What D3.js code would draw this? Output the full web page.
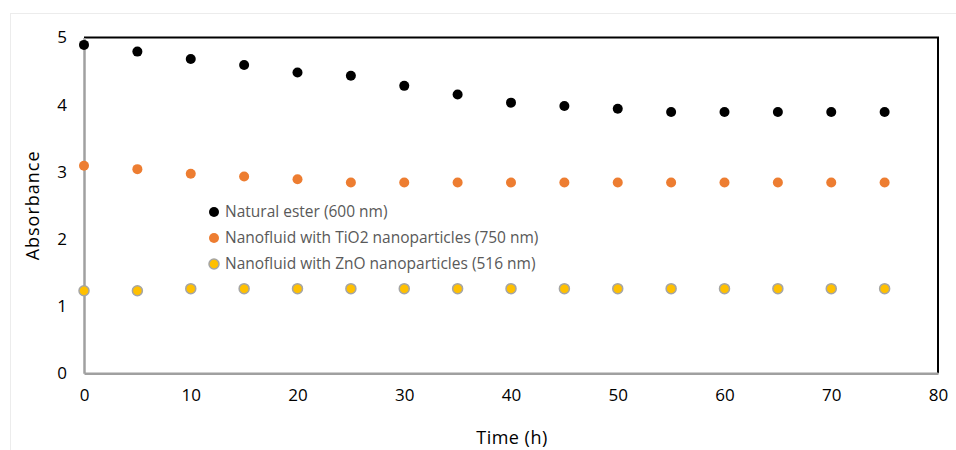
<!DOCTYPE html>
<html><head><meta charset="utf-8">
<script src="https://cdn.jsdelivr.net/npm/d3@7"></script>
<style>body{margin:0;background:#fff}svg{display:block}text{font-family:"Open Sans","Liberation Sans",sans-serif}</style>
</head><body><svg id="c" width="956" height="450"></svg>
<script>
const times = [0,5,10,15,20,25,30,35,40,45,50,55,60,65,70,75];
const naturalEster = [4.89,4.79,4.68,4.59,4.48,4.43,4.28,4.15,4.03,3.98,3.94,3.89,3.89,3.89,3.89,3.89];
const tio2 = [3.09,3.04,2.97,2.93,2.89,2.84,2.84,2.84,2.84,2.84,2.84,2.84,2.84,2.84,2.84,2.84];
const zno = [1.23,1.23,1.26,1.26,1.26,1.26,1.26,1.26,1.26,1.26,1.26,1.26,1.26,1.26,1.26,1.26];
const seriesNames = ["Natural ester (600 nm)","Nanofluid with TiO2 nanoparticles (750 nm)","Nanofluid with ZnO nanoparticles (516 nm)"];
const xTicks = [0,10,20,30,40,50,60,70,80];
const yTicks = [0,1,2,3,4,5];

const series = [
  {name: seriesNames[0], values: naturalEster, fill: "#000000", stroke: "none"},
  {name: seriesNames[1], values: tio2, fill: "#ED7D31", stroke: "none"},
  {name: seriesNames[2], values: zno, fill: "#FFC000", stroke: "#A5A5A5"}
];

const svg = d3.select("#c");
const x = d3.scaleLinear().domain([0,80]).range([84,938]);
const y = d3.scaleLinear().domain([0,5]).range([373.3,37.5]);

// faint outer frame
svg.append("rect").attr("x",10.5).attr("y",13.5).attr("width",1000).attr("height",1000)
  .attr("fill","none").attr("stroke","#ececec");

// top & right border (black)
svg.append("path").attr("d",`M${x(0)},${y(5)}H${x(80)}V${y(0)}`)
  .attr("fill","none").attr("stroke","#000").attr("stroke-width",2);

// axes
const xAxis = svg.append("g").attr("transform",`translate(0,${y(0)})`)
  .call(d3.axisBottom(x).tickValues(xTicks).tickFormat(d3.format("d")).tickSize(0).tickPadding(16));
const yAxis = svg.append("g").attr("transform",`translate(${x(0)},0)`)
  .call(d3.axisLeft(y).tickValues(yTicks).tickFormat(d3.format("d")).tickSize(0).tickPadding(17));
[xAxis,yAxis].forEach(g=>{
  g.select(".domain").attr("stroke","#A0A0A0").attr("stroke-width",2.5);
  g.selectAll("text").attr("font-size",17).attr("fill","#000");
});

// points
series.forEach(s=>{
  svg.append("g").selectAll("circle").data(s.values).join("circle")
    .attr("cx",(d,i)=>x(times[i])).attr("cy",d=>y(d)).attr("r",5)
    .attr("fill",s.fill).attr("stroke",s.stroke).attr("stroke-width",s.stroke==="none"?0:1.5);
});

// legend
const lg = svg.append("g").attr("transform","translate(214,212)");
series.forEach((s,i)=>{
  const r = lg.append("g").attr("transform",`translate(0,${i*26})`);
  r.append("circle").attr("r",5).attr("fill",s.fill).attr("stroke",s.stroke).attr("stroke-width",s.stroke==="none"?0:1.5);
  r.append("text").attr("x",11).attr("dy","0.35em").attr("font-size",15.5).attr("fill","#595959").text(s.name);
});

// axis titles
svg.append("text").attr("x",512).attr("y",444).attr("text-anchor","middle").attr("font-size",18).attr("letter-spacing",0.5).attr("fill","#000").text("Time (h)");
svg.append("text").attr("transform",`translate(39,${(y(0)+y(5))/2}) rotate(-90)`).attr("text-anchor","middle").attr("font-size",18).attr("letter-spacing",1).attr("fill","#000").text("Absorbance");
</script></body></html>
